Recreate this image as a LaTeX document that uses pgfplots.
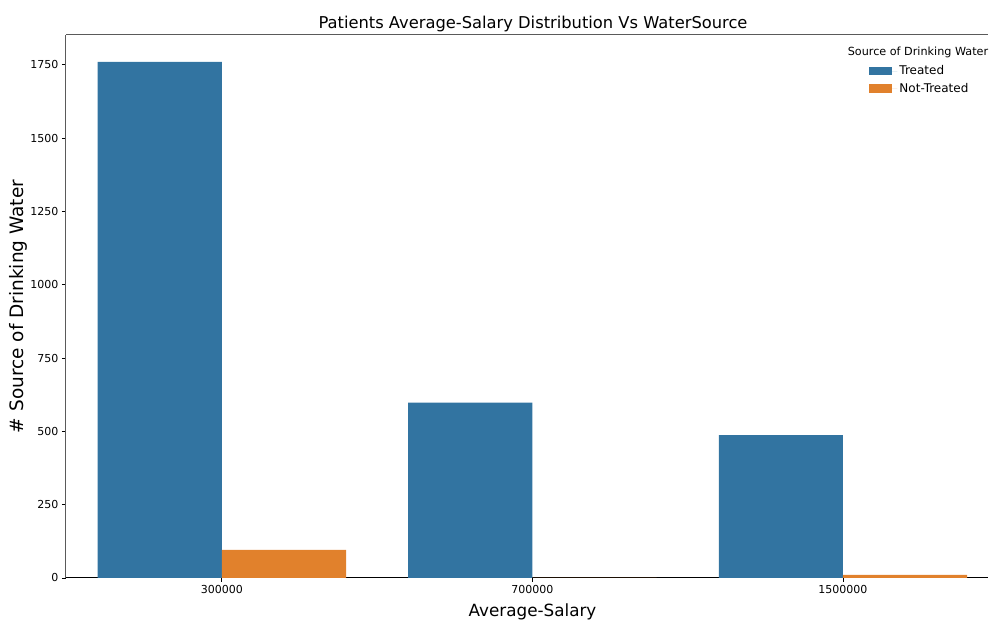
\documentclass[border=0pt]{standalone}
\usepackage{pgfplots}
\pgfplotsset{compat=1.18}
\usepackage{fontspec}
\setmainfont{DejaVu Sans}

\definecolor{sbblue}{RGB}{50,116,161}
\definecolor{sborange}{RGB}{225,129,44}
\definecolor{spine}{RGB}{90,90,90}

\begin{document}
\begin{tikzpicture}
% frame of the whole picture, 1px = 1pt
\useasboundingbox (-66pt,-45pt) rectangle (923pt,578pt);
\begin{axis}[
  at={(0pt,0pt)}, anchor=south west,
  scale only axis, width=922pt, height=543pt,
  xmin=-0.502, xmax=2.467,
  ymin=0, ymax=1852,
  axis x line*=bottom, axis y line*=left,
  x axis line style={black, line width=1pt, -},
  y axis line style={spine, line width=1pt, -},
  xtick={0,1,2}, xticklabels={300000,700000,1500000},
  ytick={0,250,500,750,1000,1250,1500,1750},
  tick align=outside, major tick length=4pt,
  tick style={black, line width=0.8pt},
  ticklabel style={font=\fontsize{11}{13}\selectfont},
  /pgf/number format/assume math mode=true,
  /pgf/number format/1000 sep={},
  scaled y ticks=false,
  ybar, bar width=0.4,
  legend style={at={(rel axis cs:0.868,0.951)}, anchor=north west,
    draw=none, fill=none, font=\fontsize{12}{14}\selectfont,
    row sep=3pt, legend cell align=left},
  legend image code/.code={\fill[#1] (0pt,-4pt) rectangle (23pt,4.5pt);
    \path (0pt,0pt) -- (28pt,0pt);},
]
\addplot[fill=sbblue, draw=none, bar shift=-0.2] coordinates {(0,1760) (1,598) (2,487)};
\addlegendentry{Treated}
\addplot[fill=sborange, draw=none, bar shift=0.2] coordinates {(0,96) (1,0) (2,11)};
\addlegendentry{Not-Treated}
\draw[spine, line width=1pt] (rel axis cs:0,1) -- (rel axis cs:1,1);
\end{axis}
\node[font=\fontsize{11.2}{13}\selectfont, anchor=base] at (852pt,522pt) {Source of Drinking Water};
\node[font=\fontsize{16.3}{19}\selectfont, anchor=base] at (467pt,549pt) {Patients Average-Salary Distribution Vs WaterSource};
\node[font=\fontsize{16.8}{20}\selectfont, anchor=base] at (466.5pt,-39pt) {Average-Salary};
\node[font=\fontsize{18.5}{22}\selectfont, anchor=base, rotate=90] at (-42pt,271.5pt) {\# Source of Drinking Water};
\end{tikzpicture}
\end{document}
